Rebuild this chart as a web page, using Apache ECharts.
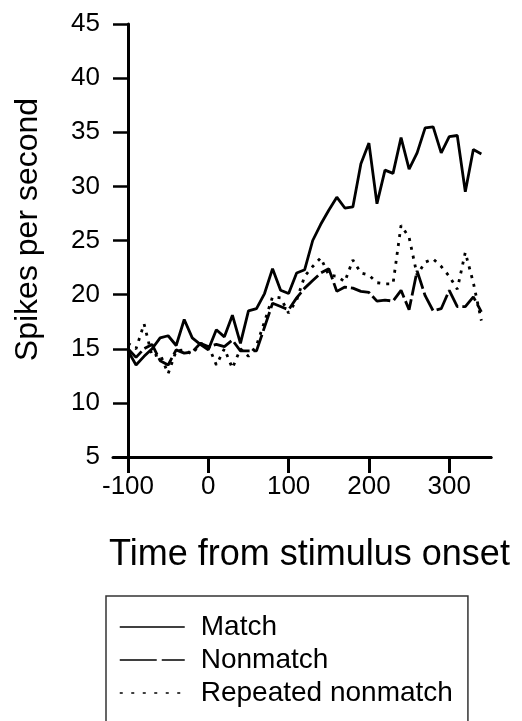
<!DOCTYPE html>
<html>
<head>
<meta charset="utf-8">
<script src="https://cdn.jsdelivr.net/npm/echarts@6/dist/echarts.min.js"></script>
<style>
html,body{margin:0;padding:0;background:#fff;}
#chart{width:522px;height:721px;}
</style>
</head>
<body>
<div id="chart"></div>
<script>
// Time bins (ms from stimulus onset)
var times = [-100,-90,-80,-70,-60,-50,-40,-30,-20,-10,0,10,20,30,40,50,60,70,80,90,100,110,120,130,140,150,160,170,180,190,200,210,220,230,240,250,260,270,280,290,300,310,320,330,340];
// Spikes per second
var matchRate = [14.8,13.5,14.3,15.0,16.0,16.2,15.3,17.7,16.0,15.4,14.9,16.75,16.1,18.1,15.5,18.5,18.7,20.1,22.4,20.4,20.1,22.0,22.3,25.0,26.5,27.8,29.0,28.0,28.1,32.1,34.0,28.4,31.5,31.2,34.5,31.6,33.1,35.4,35.5,33.1,34.6,34.7,29.5,33.4,33.0];
var nonmatchRate = [15.0,14.2,15.0,15.4,13.9,13.5,14.9,14.6,14.7,15.5,15.2,15.4,15.2,15.8,14.8,14.8,14.8,17.0,19.2,18.9,18.6,19.7,20.6,21.3,22.0,22.4,20.3,20.7,20.6,20.3,20.2,19.4,19.5,19.4,20.4,18.6,22.2,19.9,18.5,18.7,20.4,18.9,18.9,19.8,18.4];
var repeatedRate = [15.5,15.0,17.3,14.3,14.5,12.7,14.8,14.9,14.5,15.5,15.3,13.5,15.0,13.2,15.0,14.3,15.3,17.5,19.8,19.7,18.3,19.5,21.7,22.6,23.4,21.8,21.7,21.2,23.2,22.0,21.8,21.1,21.0,21.0,26.4,25.3,21.8,23.0,23.3,22.6,21.7,20.5,23.9,21.1,17.6];
var seriesNames = ['Match','Nonmatch','Repeated nonmatch'];
var xTicks = [-100,0,100,200,300];
var yTicks = [5,10,15,20,25,30,35,40,45];

function pairs(vals){ return times.map(function(t,i){ return [t, vals[i]]; }); }

var FONT = 'Liberation Sans, Arial, Helvetica, sans-serif';
var chart = echarts.init(document.getElementById('chart'), null, {renderer:'canvas'});
chart.setOption({
  animation: false,
  backgroundColor: '#fff',
  grid: [
    {left: 128, right: 31, top: 24, bottom: 264},
    {left: 113, right: 31, top: 24, bottom: 264}
  ],
  xAxis: [
    {
      type: 'value', gridIndex: 0, min: -100, max: 352,
      splitLine: {show: false},
      axisLine: {show: true, onZero: false, lineStyle: {color: '#000', width: 3}},
      axisTick: {show: true, inside: false, length: 16, customValues: xTicks, lineStyle: {color: '#000', width: 3}},
      axisLabel: {color: '#000', fontSize: 26, fontFamily: FONT, margin: 17, customValues: xTicks},
      name: 'Time from stimulus onset', nameLocation: 'middle', nameGap: 80,
      nameTextStyle: {color: '#000', fontSize: 36, fontFamily: FONT}
    },
    {
      type: 'value', gridIndex: 1, min: 0, max: 1,
      splitLine: {show: false},
      axisLine: {show: true, onZero: false, lineStyle: {color: '#000', width: 3}},
      axisTick: {show: false}, axisLabel: {show: false}
    }
  ],
  yAxis: [
    {
      type: 'value', gridIndex: 0, min: yTicks[0], max: yTicks[yTicks.length-1], interval: 5,
      splitLine: {show: false},
      axisLine: {show: true, onZero: false, lineStyle: {color: '#000', width: 3}},
      axisTick: {show: true, inside: false, length: 15, lineStyle: {color: '#000', width: 2.5}},
      axisLabel: {color: '#000', fontSize: 26, fontFamily: FONT, margin: 28},
      name: 'Spikes per second', nameLocation: 'middle', nameGap: 84, nameRotate: 90,
      nameTextStyle: {color: '#000', fontSize: 32, fontFamily: FONT, padding: [0, 0, 0, 22]}
    },
    {type: 'value', gridIndex: 1, show: false, min: 0, max: 1}
  ],
  legend: {
    orient: 'vertical', left: 106, top: 596, height: 400,
    padding: [17, 15, 40, 13],
    itemWidth: 65, itemHeight: 14, itemGap: 5,
    borderColor: '#333', borderWidth: 1.5, borderRadius: 0,
    backgroundColor: '#fff',
    itemStyle: {opacity: 0, borderWidth: 0},
    lineStyle: {width: 1.5},
    textStyle: {color: '#000', fontSize: 28, fontFamily: FONT, lineHeight: 28, padding: [0, 0, 0, 11]},
    data: [
      {name: seriesNames[0], lineStyle: {type: 'solid'}},
      {name: seriesNames[1], lineStyle: {type: [37, 5]}},
      {name: seriesNames[2], lineStyle: {type: [3, 8.5]}}
    ]
  },
  series: [
    {name: seriesNames[0], type: 'line', xAxisIndex: 0, yAxisIndex: 0, data: pairs(matchRate),
      symbol: 'none', showSymbol: false, lineStyle: {color: '#000', width: 2.8, type: 'solid'}, itemStyle: {color: '#000'}},
    {name: seriesNames[1], type: 'line', xAxisIndex: 0, yAxisIndex: 0, data: pairs(nonmatchRate),
      symbol: 'none', showSymbol: false, lineStyle: {color: '#000', width: 2.8, type: [20, 4]}, itemStyle: {color: '#000'}},
    {name: seriesNames[2], type: 'line', xAxisIndex: 0, yAxisIndex: 0, data: pairs(repeatedRate),
      symbol: 'none', showSymbol: false, lineStyle: {color: '#000', width: 2.8, type: [3, 6]}, itemStyle: {color: '#000'}}
  ]
});
</script>
</body>
</html>
